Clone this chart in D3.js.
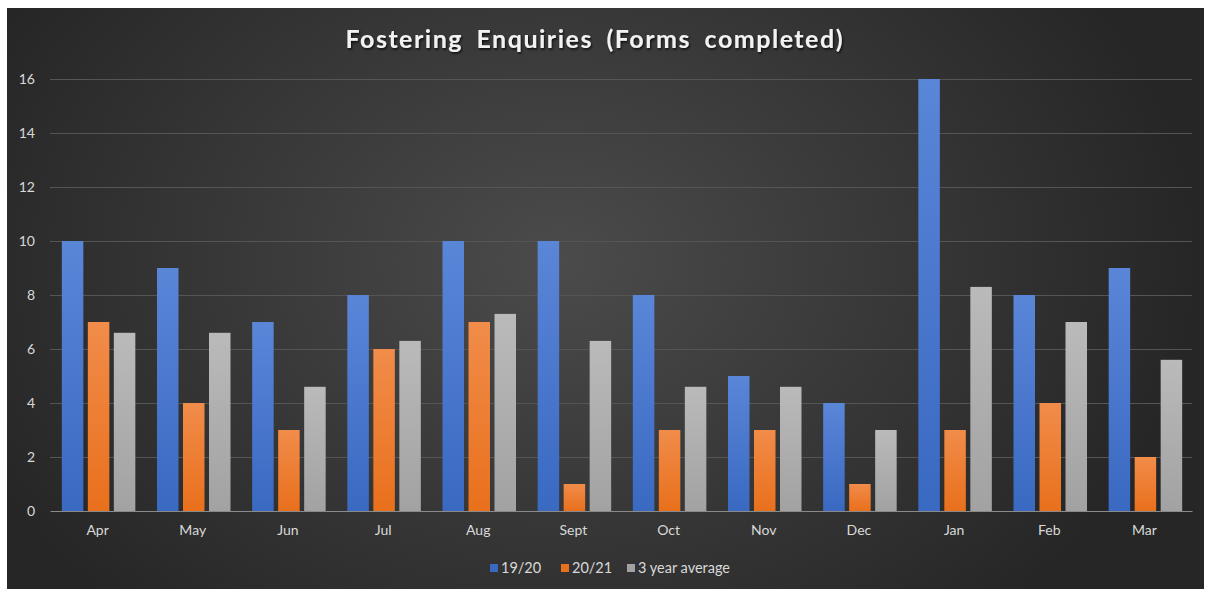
<!DOCTYPE html>
<html><head><meta charset="utf-8">
<script src="https://cdn.jsdelivr.net/npm/d3@7"></script>
<style>html,body{margin:0;padding:0;background:#fff;}svg{display:block;}</style>
</head><body>
<svg id="chart" width="1205" height="590"></svg>
<script>
const months = ["Apr","May","Jun","Jul","Aug","Sept","Oct","Nov","Dec","Jan","Feb","Mar"];
const series1920 = [10,9,7,8,10,10,8,5,4,16,8,9];
const series2021 = [7,4,3,6,7,1,3,3,1,3,4,2];
const seriesAvg = [6.6,6.6,4.6,6.3,7.3,6.3,4.6,4.6,3,8.3,7,5.6];
const seriesNames = ["19/20","20/21","3 year average"];
const yTicks = [0,2,4,6,8,10,12,14,16];
const titleText = "Fostering Enquiries (Forms completed)";

const FONT = "Lato, 'Open Sans', sans-serif";
const svg = d3.select("#chart");
const defs = svg.append("defs");
const bg = defs.append("radialGradient").attr("id","bg")
  .attr("gradientUnits","userSpaceOnUse").attr("cx",560).attr("cy",260).attr("r",640)
  .attr("gradientTransform","translate(560,260) scale(1,0.75) translate(-560,-260)");
bg.append("stop").attr("offset","0").attr("stop-color","#4b4b4b");
bg.append("stop").attr("offset","1").attr("stop-color","#262626");

const colors = [["#5a86d8","#3a69c2"],["#f18c4a","#e9701c"],["#bababa","#a2a2a2"]];
colors.forEach((c,i)=>{
  const g = defs.append("linearGradient").attr("id","g"+i).attr("x1",0).attr("y1",0).attr("x2",0).attr("y2",1);
  g.append("stop").attr("offset","0").attr("stop-color",c[0]);
  g.append("stop").attr("offset","1").attr("stop-color",c[1]);
});
const sh = defs.append("filter").attr("id","tsh").attr("x","-5%").attr("y","-30%").attr("width","110%").attr("height","160%");
sh.append("feDropShadow").attr("dx",1).attr("dy",1.5).attr("stdDeviation",1.2).attr("flood-color","#000").attr("flood-opacity",0.8);

svg.append("rect").attr("x",7).attr("y",8).attr("width",1197).attr("height",581).attr("fill","url(#bg)");

const x0 = d3.scaleBand().domain(months).range([50,1192]).paddingInner(0).paddingOuter(0);
const y = d3.scaleLinear().domain([0,16]).range([511,79]);

// gridlines
svg.append("g").selectAll("line").data(yTicks.filter(t=>t>0)).join("line")
  .attr("x1",50).attr("x2",1192).attr("y1",d=>y(d)+0.5).attr("y2",d=>y(d)+0.5)
  .attr("stroke","#555555").attr("stroke-width",1);

// y axis labels
const yAxis = d3.axisLeft(y).tickValues(yTicks).tickSize(0).tickPadding(0);
const ya = svg.append("g").attr("transform","translate(35,0)").call(yAxis);
ya.select(".domain").remove();
ya.selectAll("text").attr("fill","#d9d9d9").attr("font-family",FONT).attr("font-size",14).attr("dy","0.35em");

// bars
const barW = 21.5, gap = 4.5;
const x1 = d3.scaleBand().domain([0,1,2]).range([-(barW*1.5+gap),(barW*1.5+gap)]).paddingInner(gap/(barW+gap)).paddingOuter(0);
const allSeries = [series1920, series2021, seriesAvg];
allSeries.forEach((vals,si)=>{
  svg.append("g").selectAll("rect").data(vals).join("rect")
    .attr("x",(d,i)=>x0(months[i])+x0.bandwidth()/2+x1(si)+1)
    .attr("width",x1.bandwidth())
    .attr("y",d=>y(d))
    .attr("height",d=>y(0)-y(d))
    .attr("fill","url(#g"+si+")");
});

// x axis
const xAxis = d3.axisBottom(x0).tickSize(0).tickPadding(14);
const xa = svg.append("g").attr("transform","translate(0,511)").call(xAxis);
xa.select(".domain").attr("stroke","#8a8a8a").attr("stroke-width",1.2);
xa.selectAll("text").attr("fill","#d9d9d9").attr("font-family",FONT).attr("font-size",14);

// title
svg.append("text").attr("x",594).attr("y",48).attr("text-anchor","middle")
  .attr("font-family",FONT).attr("font-weight","bold").attr("font-size",25)
  .attr("fill","#f2f2f2").attr("filter","url(#tsh)")
  .attr("textLength",497).attr("lengthAdjust","spacing")
  .attr("word-spacing",6)
  .text(titleText);

// legend
const legX = [490,561,627];
const leg = svg.append("g");
seriesNames.forEach((n,i)=>{
  leg.append("rect").attr("x",legX[i]).attr("y",564).attr("width",8).attr("height",8).attr("fill",colors[i][1]);
  leg.append("text").attr("x",legX[i]+11).attr("y",573).attr("fill","#d9d9d9")
    .attr("font-family",FONT).attr("font-size",14.5).text(n);
});
</script>
</body></html>
